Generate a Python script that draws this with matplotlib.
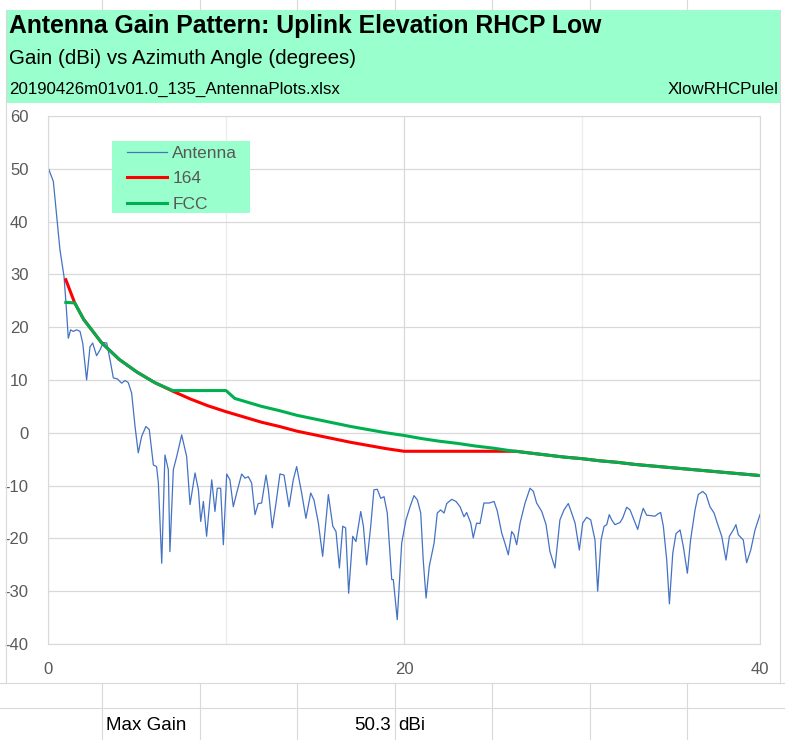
import matplotlib.pyplot as plt
from matplotlib.lines import Line2D
from matplotlib.patches import Rectangle

## chart values

antenna_deg = [0.0, 0.3, 0.49, 0.67, 0.9, 1.01, 1.14, 1.27, 1.42, 1.61, 1.8, 1.95, 2.17, 2.36, 2.51,
               2.73, 2.92, 3.11, 3.3, 3.52, 3.67, 3.9, 4.14, 4.33, 4.51, 4.7, 4.89, 5.07, 5.26, 5.5,
               5.69, 5.92, 6.1, 6.2, 6.39, 6.57, 6.76, 6.85, 7.04, 7.23, 7.51, 7.79, 7.98, 8.26, 8.45,
               8.58, 8.73, 8.91, 9.2, 9.38, 9.51, 9.7, 9.85, 10.04, 10.22, 10.41, 10.6, 10.88, 11.07,
               11.25, 11.44, 11.63, 11.81, 12.0, 12.25, 12.38, 12.6, 12.81, 13.03, 13.26, 13.54, 13.78,
               13.97, 14.25, 14.49, 14.76, 14.94, 15.19, 15.43, 15.75, 16.0, 16.18, 16.37, 16.56, 16.72,
               16.89, 17.12, 17.3, 17.57, 17.72, 17.9, 18.13, 18.31, 18.5, 18.69, 18.88, 19.06, 19.21,
               19.31, 19.4, 19.62, 19.87, 20.11, 20.34, 20.56, 20.75, 20.94, 21.08, 21.24, 21.42, 21.69,
               21.87, 22.06, 22.25, 22.4, 22.68, 22.92, 23.15, 23.37, 23.52, 23.75, 23.89, 24.08, 24.27,
               24.49, 24.79, 25.06, 25.24, 25.49, 25.67, 25.86, 26.05, 26.18, 26.33, 26.52, 26.8, 27.08,
               27.27, 27.45, 27.74, 27.98, 28.2, 28.48, 28.76, 28.99, 29.23, 29.42, 29.61, 29.85, 30.04,
               30.26, 30.49, 30.73, 30.88, 31.07, 31.24, 31.39, 31.53, 31.67, 31.85, 32.13, 32.28, 32.51,
               32.7, 32.92, 33.13, 33.3, 33.44, 33.63, 33.91, 34.1, 34.29, 34.42, 34.57, 34.76, 34.91,
               35.1, 35.28, 35.51, 35.69, 35.92, 36.1, 36.35, 36.53, 36.78, 36.97, 37.19, 37.42, 37.6,
               37.85, 38.09, 38.28, 38.5, 38.65, 38.78, 39.06, 39.25, 39.48, 39.72, 40.0]
antenna_gain = [50.3, 47.6, 41.0, 34.7, 29.6, 24.6, 17.9, 19.5, 19.2, 19.5, 19.2, 17.0, 10.0, 16.3, 17.0,
                14.6, 15.7, 17.1, 17.0, 13.2, 10.4, 10.2, 9.4, 9.9, 9.5, 7.5, 1.2, -3.8, -0.7, 1.2,
                0.6, -6.1, -6.4, -9.5, -24.7, -4.2, -7.0, -22.5, -7.0, -4.5, -0.4, -4.5, -13.6, -7.6, -10.8,
                -16.8, -13.0, -19.6, -8.9, -14.9, -10.5, -10.5, -21.2, -7.8, -8.9, -14.0, -11.4, -7.8, -8.6,
                -8.3, -9.5, -15.5, -13.4, -13.3, -8.0, -10.8, -18.0, -13.3, -7.8, -8.0, -14.0, -8.9,
                -6.4, -11.4, -16.2, -11.4, -12.7, -17.1, -23.4, -11.7, -17.7, -18.7, -25.6, -17.7, -18.0,
                -30.4, -19.6, -20.6, -14.9, -17.7, -25.0, -17.7, -10.8, -10.7, -12.4, -12.1, -15.2, -22.8,
                -27.8, -27.8, -35.4, -20.9, -16.5, -14.0, -11.9, -12.7, -15.2, -24.1, -31.3, -25.3, -20.9,
                -15.2, -14.6, -15.2, -13.4, -12.6, -13.0, -14.0, -15.9, -15.1, -17.1, -19.9, -17.1, -17.2,
                -13.3, -13.3, -13.0, -14.8, -19.0, -20.9, -23.1, -18.7, -19.3, -21.2, -17.1, -13.3, -10.5,
                -11.1, -13.3, -14.9, -17.4, -22.5, -25.6, -16.5, -14.6, -13.4, -15.2, -17.1, -22.2, -17.1,
                -16.0, -16.5, -20.3, -30.0, -20.3, -17.7, -17.4, -15.5, -16.5, -17.4, -17.0, -16.2, -14.1,
                -14.6, -16.5, -18.3, -15.9, -14.3, -15.6, -15.7, -15.8, -15.3, -15.1, -17.7, -24.1, -32.4,
                -22.8, -19.1, -18.4, -21.5, -26.6, -20.3, -14.6, -11.7, -11.1, -11.7, -14.0, -15.2, -17.1,
                -19.6, -24.1, -19.6, -18.4, -17.4, -19.3, -20.3, -24.6, -22.2, -18.4, -15.5]

lim164_deg = [1, 1.5, 2, 3, 4, 5, 6, 7, 8, 9, 10, 11, 12, 13, 14, 15, 16, 17, 18, 19, 20,
              26.3, 27, 28, 29, 30, 31, 32, 33, 34, 35, 36, 37, 38, 39, 40]
lim164_gain = [29.0, 24.6, 21.5, 17.1, 13.9, 11.5, 9.5, 7.9, 6.4, 5.1, 4.0, 3.0, 2.0, 1.2, 0.3, -0.4,
               -1.1, -1.8, -2.4, -3.0, -3.5, -3.5, -3.8, -4.2, -4.6, -4.9, -5.3, -5.6, -6.0, -6.3,
               -6.6, -6.9, -7.2, -7.5, -7.8, -8.1]

fcc_deg = [1, 1.5, 2, 3, 4, 5, 6, 7, 10, 10.5, 11, 12, 13, 14, 15, 16, 17, 18, 19, 20, 21, 22, 23,
           24, 25, 26, 27, 28, 29, 30, 31, 32, 33, 34, 35, 36, 37, 38, 39, 40]
fcc_gain = [24.7, 24.6, 21.5, 17.1, 13.9, 11.5, 9.5, 8.0, 8.0, 6.5, 6.0, 5.0, 4.2, 3.3, 2.6, 1.9,
            1.2, 0.6, 0.0, -0.5, -1.1, -1.6, -2.0, -2.5, -2.9, -3.4, -3.8, -4.2, -4.6, -4.9, -5.3,
            -5.6, -6.0, -6.3, -6.6, -6.9, -7.2, -7.5, -7.8, -8.1]

series_names = ["Antenna", "164", "FCC"]
title = "Antenna Gain Pattern: Uplink Elevation RHCP Low"
subtitle = "Gain (dBi) vs Azimuth Angle (degrees)"
file_name = "20190426m01v01.0_135_AntennaPlots.xlsx"
sheet_name = "XlowRHCPulel"
max_gain = 50.3

## layout helpers (pixel -> figure fraction)

W, H = 785, 740
GREEN = "#99FFCC"
GRID = "#d9d9d9"
TEXT = "#595959"
FONT = ["Liberation Sans", "DejaVu Sans"]


def fx(px):
    return px / W


def fy(py):
    return 1 - py / H


plt.rcParams["font.family"] = FONT
plt.rcParams["axes.unicode_minus"] = False

fig = plt.figure(figsize=(W / 100, H / 100), dpi=100)

## spreadsheet cells around the chart

cols = [102, 200, 297, 395, 492, 590, 687]
for c in cols:
    fig.add_artist(Line2D([fx(c), fx(c)], [fy(0), fy(10)], color=GRID, lw=0.8))
    fig.add_artist(Line2D([fx(c), fx(c)], [fy(683), fy(740)], color=GRID, lw=0.8))
fig.add_artist(Line2D([0, 1], [fy(708), fy(708)], color=GRID, lw=0.8))
fig.add_artist(Line2D([0, 1], [fy(683), fy(683)], color=GRID, lw=0.8))
fig.add_artist(Line2D([fx(6), fx(6)], [fy(10), fy(683)], color=GRID, lw=0.8))
fig.add_artist(Line2D([fx(780), fx(780)], [fy(10), fy(683)], color=GRID, lw=0.8))

## header band

fig.add_artist(Rectangle((fx(6), fy(103)), fx(781) - fx(6), fy(10) - fy(103),
                         facecolor=GREEN, edgecolor="none"))
fig.text(fx(9), fy(26), title, fontsize=17.8, fontweight="bold", va="center", color="black")
fig.text(fx(9), fy(59), subtitle, fontsize=14.8, va="center", color="black")
fig.text(fx(9), fy(89), file_name, fontsize=12.2, va="center", color="black")
fig.text(fx(778), fy(89), sheet_name, fontsize=12.2, va="center", ha="right", color="black")

## bottom row

fig.text(fx(106), fy(726), "Max Gain", fontsize=13.5, va="center")
fig.text(fx(391), fy(726), f"{max_gain:.1f}", fontsize=13.5, va="center", ha="right")
fig.text(fx(398), fy(726), "dBi", fontsize=13.5, va="center")

## plot area

ax = fig.add_axes([fx(48), fy(644), fx(760) - fx(48), fy(116) - fy(644)])
ax.plot(antenna_deg, antenna_gain, color="#4472C4", lw=0.9, label=series_names[0])
ax.plot(lim164_deg, lim164_gain, color="#FF0000", lw=2.2, label=series_names[1])
ax.plot(fcc_deg, fcc_gain, color="#00B050", lw=2.2, label=series_names[2])

ax.set_xlim(0, 40)
ax.set_ylim(-40, 60)
ax.set_xticks([0, 20, 40])
ax.set_xticks([10, 30], minor=True)
ax.set_yticks(range(-40, 61, 10))
ax.grid(which="major", color=GRID, lw=0.9)
ax.grid(which="minor", axis="x", color="#ececec", lw=0.9)
ax.set_axisbelow(True)
ax.tick_params(which="both", length=0, colors=TEXT, labelsize=12)
ax.tick_params(axis="y", pad=14)
ax.tick_params(axis="x", pad=13)
for s in ax.spines.values():
    s.set_color(GRID)

# legend: green box behind, legend entries on top
ax.add_patch(Rectangle((fx(112), fy(213)), fx(250) - fx(112), fy(141) - fy(213),
                       transform=fig.transFigure, facecolor=GREEN, edgecolor="none", zorder=4))
leg = ax.legend(loc="upper left", bbox_to_anchor=(fx(127), fy(146)), bbox_transform=fig.transFigure,
                frameon=False, fontsize=12.5, handlelength=2.3, handletextpad=0.3,
                labelspacing=0.58, borderpad=0, borderaxespad=0)
for t in leg.get_texts():
    t.set_color(TEXT)

fig.savefig("out.png", dpi=100)
